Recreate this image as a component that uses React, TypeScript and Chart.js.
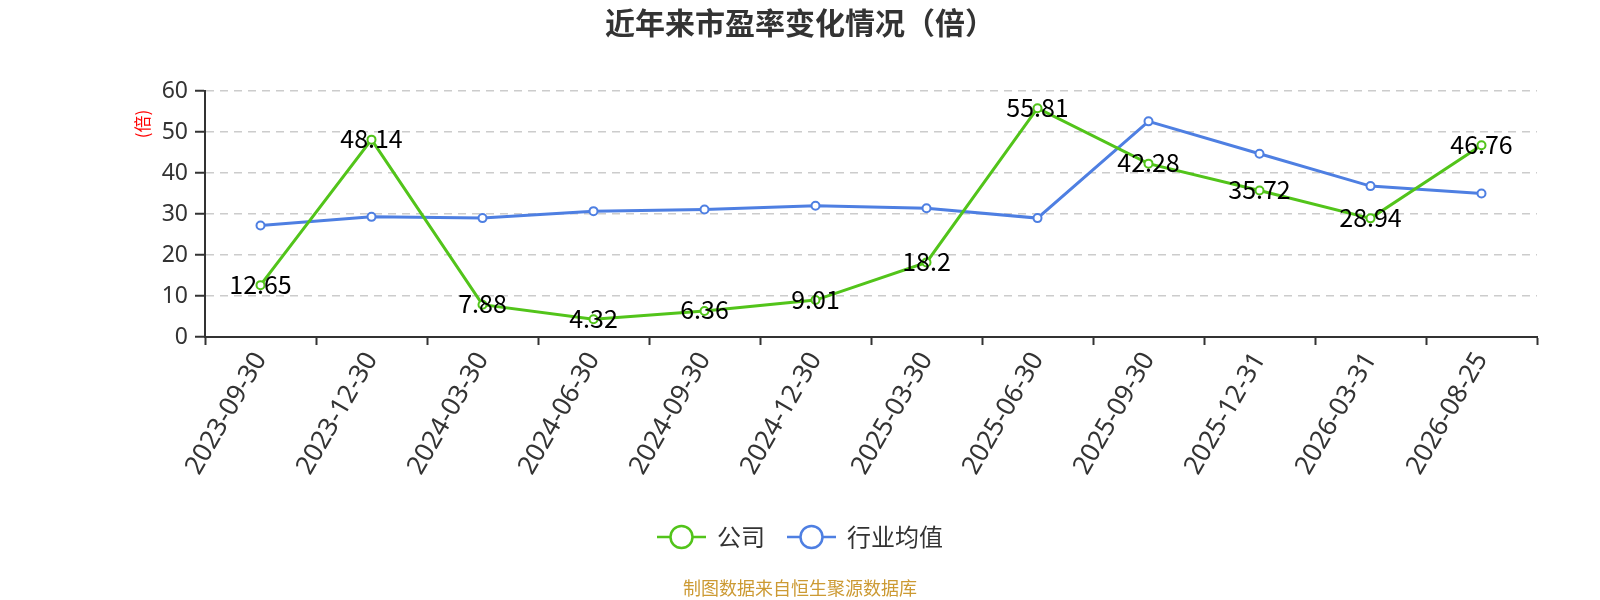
import React, { useEffect, useRef } from 'react';
import { Chart, registerables } from 'chart.js';

Chart.register(...registerables);

const FONT = "'Noto Sans CJK SC', 'Noto Sans', sans-serif";
const NUM_FONT = "'Noto Sans', 'Noto Sans CJK SC', sans-serif";

// 数据
const dates = [
    '2023-09-30', '2023-12-30', '2024-03-30', '2024-06-30', '2024-09-30', '2024-12-30',
    '2025-03-30', '2025-06-30', '2025-09-30', '2025-12-31', '2026-03-31', '2026-08-25',
];
const companyPE = [12.65, 48.14, 7.88, 4.32, 6.36, 9.01, 18.2, 55.81, 42.28, 35.72, 28.94, 46.76];
const industryPE = [27.2, 29.3, 29.0, 30.7, 31.1, 32.0, 31.4, 29.0, 52.6, 44.7, 36.8, 35.0];
const seriesNames = ['公司', '行业均值'];
const seriesColors = ['#52c41a', '#4e7fe2'];
const yTicks = [0, 10, 20, 30, 40, 50, 60];

const chartTitle = '近年来市盈率变化情况（倍）';
const yUnit = '(倍)';
const footerText = '制图数据来自恒生聚源数据库';

// 公司数据点上的数值
const valueLabels = {
    id: 'valueLabels',
    afterDatasetsDraw(chart: any) {
        const ctx = chart.ctx;
        const meta = chart.getDatasetMeta(0);
        ctx.save();
        ctx.font = `25px ${FONT}`;
        ctx.fillStyle = '#000';
        ctx.textAlign = 'center';
        ctx.textBaseline = 'middle';
        meta.data.forEach((pt: any, i: number) => {
            ctx.fillText(String(companyPE[i]), pt.x, pt.y - 1);
        });
        ctx.restore();
    },
};

// 标题、图例、单位、来源
const extras = {
    id: 'extras',
    afterDraw(chart: any) {
        const ctx = chart.ctx;
        ctx.save();

        // 标题
        ctx.font = `bold 30px ${FONT}`;
        ctx.fillStyle = '#333';
        ctx.textAlign = 'center';
        ctx.textBaseline = 'middle';
        ctx.fillText(chartTitle, chart.width / 2, 23);

        // y 轴单位
        ctx.translate(143, 124);
        ctx.rotate(-Math.PI / 2);
        ctx.font = `17px ${FONT}`;
        ctx.fillStyle = '#ff0000';
        ctx.fillText(yUnit, 0, 0);
        ctx.setTransform(1, 0, 0, 1, 0, 0);

        // 图例
        ctx.font = `24px ${FONT}`;
        const symW = 49, gap = 11, itemGap = 22;
        const widths = seriesNames.map(n => symW + gap + ctx.measureText(n).width);
        const total = widths.reduce((a, b) => a + b, 0) + itemGap * (seriesNames.length - 1);
        let x = chart.width / 2 - total / 2;
        const y = 537;
        seriesNames.forEach((name, i) => {
            ctx.strokeStyle = seriesColors[i];
            ctx.lineWidth = 2.5;
            ctx.beginPath();
            ctx.moveTo(x, y);
            ctx.lineTo(x + symW, y);
            ctx.stroke();
            ctx.beginPath();
            ctx.arc(x + symW / 2, y, 11, 0, Math.PI * 2);
            ctx.fillStyle = '#fff';
            ctx.fill();
            ctx.stroke();
            ctx.fillStyle = '#333';
            ctx.textAlign = 'left';
            ctx.textBaseline = 'middle';
            ctx.fillText(name, x + symW + gap, y);
            x += widths[i] + itemGap;
        });

        // 来源
        ctx.font = `18px ${FONT}`;
        ctx.fillStyle = '#cc9a33';
        ctx.textAlign = 'center';
        ctx.fillText(footerText, chart.width / 2, 588);
        ctx.restore();
    },
};

const App: React.FC = () => {
    const chartRef = useRef<HTMLCanvasElement>(null);
    const chartInstanceRef = useRef<Chart | null>(null);

    useEffect(() => {
        document.body.style.margin = '0';
        if (!chartRef.current) return;
        const ctx = chartRef.current.getContext('2d');
        if (!ctx) return;

        if (chartInstanceRef.current) {
            chartInstanceRef.current.destroy();
        }

        chartInstanceRef.current = new Chart(ctx, {
            type: 'line',
            data: {
                labels: dates,
                datasets: [companyPE, industryPE].map((d, i) => ({
                    label: seriesNames[i],
                    data: d,
                    borderColor: seriesColors[i],
                    backgroundColor: '#fff',
                    pointBackgroundColor: '#fff',
                    pointBorderColor: seriesColors[i],
                    pointBorderWidth: 2,
                    pointRadius: 4,
                    borderWidth: 3,
                    tension: 0,
                    fill: false,
                })),
            },
            options: {
                responsive: false,
                animation: false,
                layout: { padding: { left: 0, right: 63, top: 91, bottom: 113 } },
                font: { family: FONT },
                scales: {
                    x: {
                        offset: true,
                        afterFit: (scale: any) => { scale.height = 150; },
                        grid: {
                            offset: true,
                            drawOnChartArea: false,
                            drawTicks: true,
                            tickLength: 8,
                            tickColor: '#333',
                            tickWidth: 2,
                        },
                        border: { display: true, color: '#333', width: 2 },
                        ticks: {
                            color: '#333',
                            font: { size: 26, family: NUM_FONT },
                            minRotation: 60,
                            maxRotation: 60,
                            autoSkip: false,
                            padding: 2,
                        },
                    },
                    y: {
                        min: 0,
                        max: 60,
                        afterFit: (scale: any) => { scale.width = 205; },
                        afterBuildTicks: (scale: any) => { scale.ticks = yTicks.map(v => ({ value: v })); },
                        grid: {
                            color: '#cccccc',
                            lineWidth: 1.5,
                            drawTicks: true,
                            tickLength: 10,
                            tickColor: '#333',
                            tickWidth: 2,
                        },
                        border: { display: true, color: '#333', width: 2, dash: [8, 6] },
                        ticks: {
                            color: '#333',
                            font: { size: 23, family: NUM_FONT },
                            padding: 7,
                        },
                    },
                },
                plugins: {
                    legend: { display: false },
                    tooltip: { enabled: false },
                    title: { display: false },
                },
            },
            plugins: [valueLabels, extras],
        });

        return () => {
            if (chartInstanceRef.current) {
                chartInstanceRef.current.destroy();
                chartInstanceRef.current = null;
            }
        };
    }, []);

    return (
        <div style={{ width: 1600, height: 600 }}>
            <canvas ref={chartRef} width={1600} height={600} />
        </div>
    );
};

export default App;
